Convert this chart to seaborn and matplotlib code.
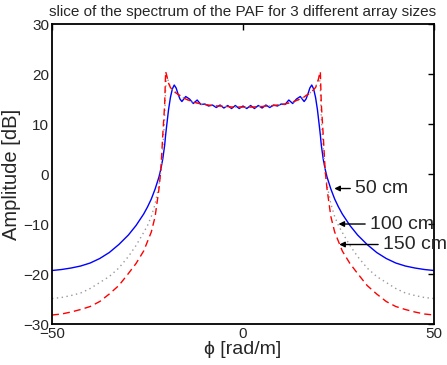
import numpy as np
import pandas as pd
import matplotlib
matplotlib.use("Agg")
import matplotlib.pyplot as plt
import seaborn as sns

# DATA
phi = [-50, -47.5, -45, -42.5, -40, -37.5, -35, -32.5, -30, -28, -26, -25, -24, -23, -22,
       -21.5, -21, -20.5, -20.25, -20, -19.5, -19, -18.5, -18, -17.5, -17, -16.5,
       -16, -15, -14, -13, -12, -11, -10, -9, -8, -7, -6, -5, -4, -3, -2, -1, 0,
       1, 2, 3, 4, 5, 6, 7, 8, 9, 10, 11, 12, 13, 14, 15, 16,
       16.5, 17, 17.5, 18, 18.5, 19, 19.5, 20, 20.25, 20.5, 21, 21.5,
       22, 23, 24, 25, 26, 28, 30, 32.5, 35, 37.5, 40, 42.5, 45, 47.5, 50]

amp_50cm = [-19.3, -19.1, -18.8, -18.4, -17.8, -16.9, -15.7, -14.1, -12.2, -10.3, -8.0, -6.6, -5.0, -3.0, -0.6,
            1.0, 3.0, 5.8, 7.8, 9.5, 12.8, 15.3, 17.0, 17.8, 17.2, 16.0, 15.0,
            14.5, 15.5, 15.0, 14.1, 14.8, 13.9, 14.0, 13.6, 13.8, 13.3, 13.8, 13.2, 13.7, 13.1, 13.7, 13.1, 13.6,
            13.1, 13.7, 13.1, 13.7, 13.2, 13.8, 13.3, 13.8, 13.6, 14.0, 13.9, 14.8, 14.1, 15.0, 15.5, 14.5,
            15.0, 16.0, 17.2, 17.8, 17.0, 15.3, 12.8, 9.5, 7.8, 5.8, 3.0, 1.0,
            -0.6, -3.0, -5.0, -6.6, -8.0, -10.3, -12.2, -14.1, -15.7, -16.9, -17.8, -18.4, -18.8, -19.1, -19.3]

amp_100cm = [-24.9, -24.7, -24.3, -23.8, -22.9, -21.7, -20.5, -18.8, -16.5, -14.3, -11.7, -10.3, -8.5, -6.0, -2.2,
             0.6, 5.0, 11.0, 17.0, 19.6, 18.5, 17.3, 16.8, 16.5, 16.2, 15.9, 15.7,
             15.4, 15.0, 14.7, 14.4, 14.2, 14.0, 13.9, 13.8, 13.7, 13.6, 13.6, 13.5, 13.5, 13.4, 13.4, 13.4, 13.4,
             13.4, 13.4, 13.4, 13.5, 13.5, 13.6, 13.6, 13.7, 13.8, 13.9, 14.0, 14.2, 14.4, 14.7, 15.0, 15.4,
             15.7, 15.9, 16.2, 16.5, 16.8, 17.3, 18.5, 19.6, 17.0, 11.0, 5.0, 0.6,
             -2.2, -6.0, -8.5, -10.3, -11.7, -14.3, -16.5, -18.8, -20.5, -21.7, -22.9, -23.8, -24.3, -24.7, -24.9]

amp_150cm = [-28.2, -28.0, -27.6, -27.1, -26.5, -25.5, -24.0, -22.3, -19.9, -17.9, -15.4, -13.5, -11.6, -8.5, -3.0,
             0.8, 7.8, 14.0, 20.5, 19.8, 18.2, 17.3, 16.9, 16.5, 16.2, 15.9, 15.7,
             15.4, 15.0, 14.7, 14.4, 14.2, 14.0, 13.9, 13.8, 13.7, 13.6, 13.6, 13.5, 13.5, 13.4, 13.4, 13.4, 13.4,
             13.4, 13.4, 13.4, 13.5, 13.5, 13.6, 13.6, 13.7, 13.8, 13.9, 14.0, 14.2, 14.4, 14.7, 15.0, 15.4,
             15.7, 15.9, 16.2, 16.5, 16.9, 17.3, 18.2, 19.8, 20.5, 14.0, 7.8, 0.8,
             -3.0, -8.5, -11.6, -13.5, -15.4, -17.9, -19.9, -22.3, -24.0, -25.5, -26.5, -27.1, -27.6, -28.0, -28.2]

sizes = ["50 cm", "100 cm", "150 cm"]
# where the arrows point, and where their labels sit
arrow_tip = [(23.9, -2.9), (25.0, -10.0), (25.2, -14.1)]
label_pos = [(29.3, -2.9), (33.2, -10.0), (36.6, -14.1)]

df = pd.DataFrame({"phi": phi, "50 cm": amp_50cm, "100 cm": amp_100cm, "150 cm": amp_150cm})

# PLOT
sns.set_style("white")
plt.rcParams["font.family"] = ["Liberation Sans", "DejaVu Sans"]

fig = plt.figure(figsize=(4.47, 3.65), dpi=100)
ax = fig.add_axes([0.1163, 0.1123, 0.8546, 0.8219])

sns.lineplot(data=df, x="phi", y="50 cm", ax=ax, color="#0000ff", lw=1.0)
sns.lineplot(data=df, x="phi", y="100 cm", ax=ax, color="#999999", lw=1.0, linestyle=(0, (1, 2.5)))
sns.lineplot(data=df, x="phi", y="150 cm", ax=ax, color="#ff0000", lw=1.0, linestyle=(0, (5, 3)))

for name, tip, pos in zip(sizes, arrow_tip, label_pos):
    ax.annotate(name, xy=tip, xytext=pos, va="center", ha="left", fontsize=14,
                annotation_clip=False,
                arrowprops=dict(arrowstyle="-|>", color="k", lw=1.0,
                                mutation_scale=8, shrinkA=1, shrinkB=0))

ax.set_xlim(-50, 50)
ax.set_ylim(-30, 30)
ax.set_xticks([-50, 0, 50])
ax.set_yticks([-30, -20, -10, 0, 10, 20, 30])
ax.tick_params(direction="in", top=True, right=True, length=4, width=1,
               labelsize=11, pad=2, color="k")
for s in ax.spines.values():
    s.set_linewidth(1.3)
    s.set_color("k")

ax.set_title("slice of the spectrum of the PAF for 3 different array sizes", fontsize=11, pad=6)
ax.set_xlabel("\u03d5 [rad/m]", fontsize=14, labelpad=0)
ax.set_ylabel("Amplitude [dB]", fontsize=14.5, labelpad=2)

fig.savefig("out.png", dpi=100)
